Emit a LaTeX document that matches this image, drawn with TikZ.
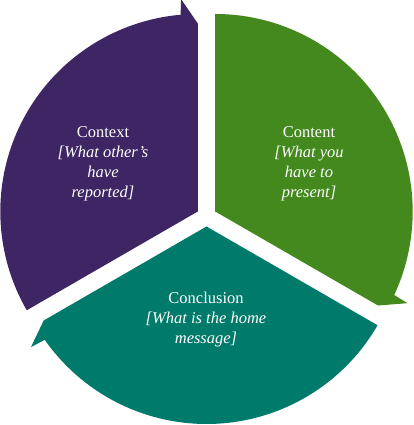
\documentclass[tikz,border=0pt]{standalone}
\usepackage{fontspec}
\setmainfont{Liberation Serif}
\definecolor{purp}{RGB}{62,38,100}
\definecolor{grn}{RGB}{67,137,30}
\definecolor{teal2}{RGB}{0,122,106}
\def\segR{197.5pt}
\def\barbR{213pt}
\def\tipR{188pt}
\tikzset{
  lbl/.style={text=white, align=center, font=\fontsize{16.5}{20}\selectfont, inner sep=0pt}
}
\begin{document}
\begin{tikzpicture}[x=1pt,y=1pt]
\useasboundingbox (0,0) rectangle (414,425);
% green segment
\begin{scope}[shift={(215.2,213.5)}]
  \fill[grn] (0,0) -- (90:\segR) arc[start angle=90, end angle=-25, radius=\segR]
    -- (-25.5:\barbR) -- (-30:\tipR) -- cycle;
\end{scope}
% purple segment
\begin{scope}[shift={(197.8,213.5)}]
  \fill[purp] (0,0) -- (210:\segR) arc[start angle=210, end angle=95, radius=\segR]
    -- (94.5:\barbR) -- (90:\tipR) -- cycle;
\end{scope}
% teal segment
\begin{scope}[shift={(206.5,198.5)}]
  \fill[teal2] (0,0) -- (-30:\segR) arc[start angle=-30, end angle=-145, radius=\segR]
    -- (-145.5:\barbR) -- (-150:\tipR) -- cycle;
\end{scope}
\node[lbl] (context) at (103,261.5) {Context\\\textit{[What other's}\\\textit{have}\\\textit{reported]}};
\node[lbl] (content) at (309,261.5) {Content\\\textit{[What you}\\\textit{have to}\\\textit{present]}};
\node[lbl] (conclusion) at (206,105) {Conclusion\\\textit{[What is the home}\\\textit{message]}};
\end{tikzpicture}
\end{document}
